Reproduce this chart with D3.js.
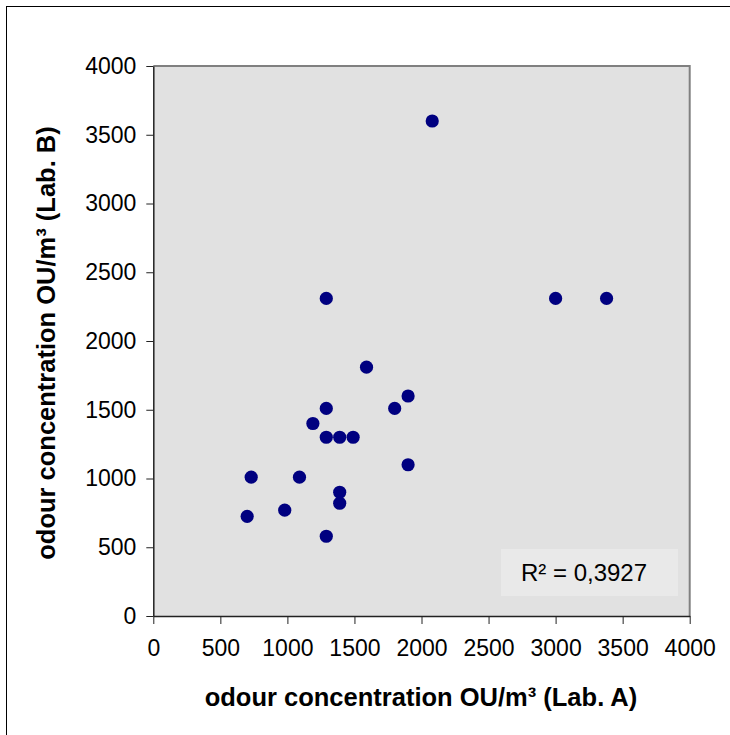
<!DOCTYPE html>
<html>
<head>
<meta charset="utf-8">
<script src="https://cdn.jsdelivr.net/npm/d3@7"></script>
<style>
  body { margin: 0; background: white; }
  svg { display: block; }
  text { font-family: Arial, "Liberation Sans", sans-serif; }
</style>
</head>
<body>
<div id="chart"></div>
<script>
// odour concentration, Lab. A vs Lab. B (OU/m3)
const labA = [2080, 1290, 3000, 3380, 1590, 1900, 1800, 1290, 1190, 1290,
              1390, 1490, 1900, 730, 1090, 1390, 1390, 980, 700, 1290];
const labB = [3600, 2310, 2310, 2310, 1810, 1600, 1510, 1510, 1400, 1300,
              1300, 1300, 1100, 1010, 1010, 900, 820, 770, 725, 580];
const xTicks = [0, 500, 1000, 1500, 2000, 2500, 3000, 3500, 4000];
const yTicks = [0, 500, 1000, 1500, 2000, 2500, 3000, 3500, 4000];
const rSquared = "R² = 0,3927";

const dim = {
  width: 730,
  height: 735,
  left: 153.3,
  right: 689.7,
  top: 66,
  bottom: 616,
};

var svg = d3
  .select("#chart")
  .append("svg")
  .attr("width", dim.width)
  .attr("height", dim.height);

// outer chart border (right and bottom edges fall outside the page)
svg
  .append("rect")
  .attr("x", 6.5)
  .attr("y", 6.5)
  .attr("width", 740)
  .attr("height", 740)
  .style("fill", "white")
  .style("stroke", "#000")
  .style("stroke-width", 1);

var x = d3.scaleLinear().domain([0, 4000]).range([dim.left, dim.right]);
var y = d3.scaleLinear().domain([0, 4000]).range([dim.bottom, dim.top]);

// plot area
svg
  .append("rect")
  .attr("x", dim.left)
  .attr("y", dim.top)
  .attr("width", dim.right - dim.left)
  .attr("height", dim.bottom - dim.top)
  .style("fill", "#e1e1e1");
svg
  .append("path")
  .attr("d", "M" + dim.left + "," + dim.top + "H" + dim.right + "V" + dim.bottom)
  .style("fill", "none")
  .style("stroke", "#808080")
  .style("stroke-width", 2);

// axes
var fmt = d3.format("d");
var xAxis = svg
  .append("g")
  .attr("transform", "translate(0," + dim.bottom + ")")
  .call(d3.axisBottom(x).tickValues(xTicks).tickFormat(fmt).tickSize(8).tickPadding(16).tickSizeOuter(0));
var yAxis = svg
  .append("g")
  .attr("transform", "translate(" + dim.left + ",0)")
  .call(d3.axisLeft(y).tickValues(yTicks).tickFormat(fmt).tickSize(7).tickPadding(10).tickSizeOuter(0));

[xAxis, yAxis].forEach(function (g) {
  g.select(".domain").style("stroke", "#222").style("stroke-width", 1.5);
  g.selectAll(".tick line").style("stroke", "#222");
  g.selectAll(".tick text")
    .style("font-size", "23px")
    .style("fill", "#000")
    .style("font-family", "Arial, 'Liberation Sans', sans-serif");
});

// R² label
svg
  .append("rect")
  .attr("x", 501)
  .attr("y", 549)
  .attr("width", 177)
  .attr("height", 47)
  .style("fill", "#e9e9e9");
svg
  .append("text")
  .attr("x", 584)
  .attr("y", 581)
  .attr("text-anchor", "middle")
  .style("font-size", "24px")
  .text(rSquared);

// points
svg
  .selectAll("circle.pt")
  .data(labA)
  .enter()
  .append("circle")
  .attr("class", "pt")
  .attr("cx", function (d) {
    return x(d);
  })
  .attr("cy", function (d, i) {
    return y(labB[i]);
  })
  .attr("r", 6.6)
  .style("fill", "#000080");

// axis titles
svg
  .append("text")
  .attr("text-anchor", "middle")
  .attr("x", 421)
  .attr("y", 706)
  .style("font-size", "25.5px")
  .style("font-weight", "bold")
  .text("odour concentration OU/m³ (Lab. A)");

svg
  .append("text")
  .attr("text-anchor", "middle")
  .attr("transform", "translate(55,343) rotate(-90)")
  .style("font-size", "25.5px")
  .style("font-weight", "bold")
  .text("odour concentration OU/m³ (Lab. B)");
</script>
</body>
</html>
